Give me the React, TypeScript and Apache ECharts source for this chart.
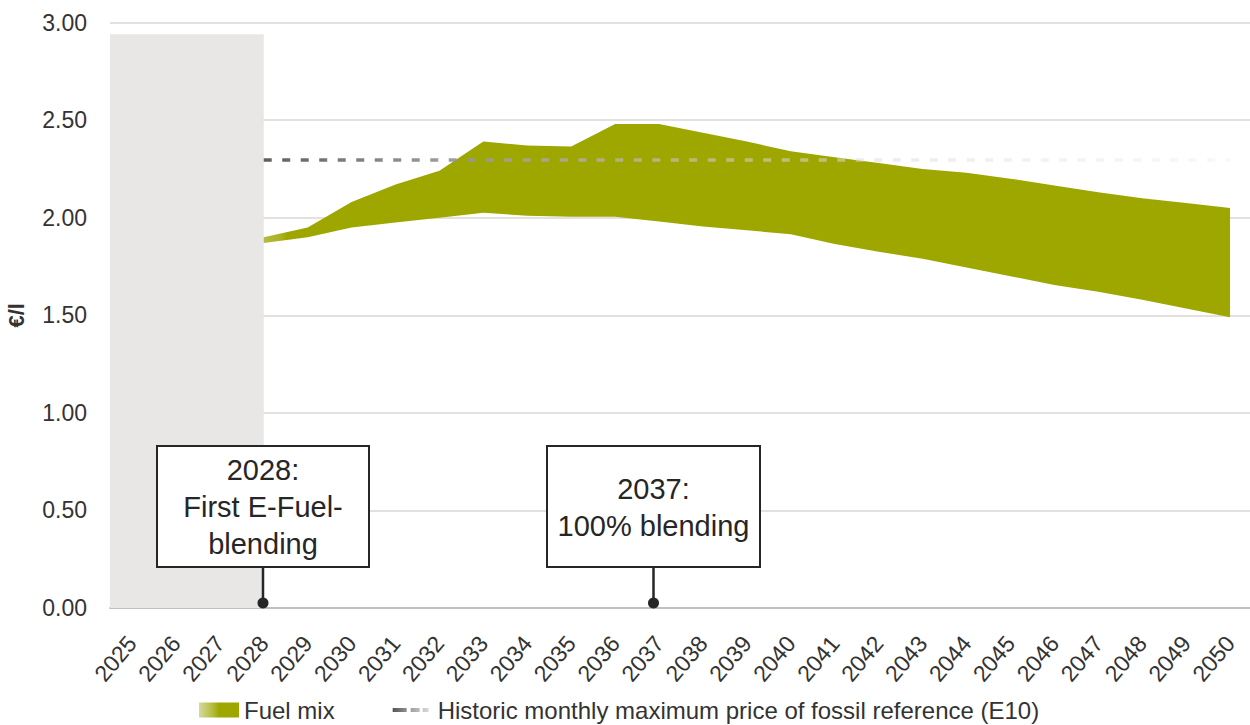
import React, { useEffect, useRef } from "react";
import * as echarts from "echarts";

const years = [
  "2025", "2026", "2027", "2028", "2029", "2030", "2031", "2032", "2033", "2034",
  "2035", "2036", "2037", "2038", "2039", "2040", "2041", "2042", "2043", "2044",
  "2045", "2046", "2047", "2048", "2049", "2050",
];

// Upper and lower bound of the fuel-mix price range (€/l)
const upperBound = [
  null, null, null, 1.9, 1.95, 2.08, 2.17, 2.24, 2.39, 2.37,
  2.365, 2.48, 2.48, 2.435, 2.39, 2.34, 2.31, 2.28, 2.25, 2.23,
  2.2, 2.165, 2.13, 2.1, 2.075, 2.05,
];
const lowerBound = [
  null, null, null, 1.87, 1.9, 1.95, 1.975, 2.0, 2.025, 2.01,
  2.005, 2.005, 1.98, 1.955, 1.935, 1.915, 1.865, 1.825, 1.79, 1.745,
  1.7, 1.655, 1.62, 1.58, 1.535, 1.49,
];

// Historic monthly maximum price of fossil reference (E10)
const fossilReference = [
  null, null, null, 2.295, 2.295, 2.295, 2.295, 2.295, 2.295, 2.295,
  2.295, 2.295, 2.295, 2.295, 2.295, 2.295, 2.295, 2.295, 2.295, 2.295,
  2.295, 2.295, 2.295, 2.295, 2.295, 2.295,
];

// Shaded historic period (index -0.5 .. 3 on a hidden value axis)
const shadedPeriod = [
  [-0.5, 2.94],
  [3, 2.94],
];

const yTicks = { min: 0, max: 3, interval: 0.5 };

const annotations = [
  { text: "2028:\nFirst E-Fuel-\nblending", x: 157, w: 212, stem: 263 },
  { text: "2037:\n100% blending", x: 547, w: 213, stem: 653.5 },
];

const FONT = "'Liberation Sans', Arial, sans-serif";
const TEXT = "#333333";
const OLIVE = "#9ea700";
const FUEL = "Fuel mix";
const FOSSIL = "Historic monthly maximum price of fossil reference (E10)";

export default function App() {
  const ref = useRef<HTMLDivElement>(null);

  useEffect(() => {
    if (!ref.current) return;
    const chart = echarts.init(ref.current, undefined, { renderer: "svg" });

    const band = upperBound.map((u, i) => {
      const l = lowerBound[i];
      return u == null || l == null ? null : +(u - l).toFixed(4);
    });

    const fossilGradient = new echarts.graphic.LinearGradient(
      264, 0, 1230, 0,
      [
        { offset: 0, color: "rgba(95,95,95,1)" },
        { offset: 0.25, color: "rgba(160,160,160,0.85)" },
        { offset: 0.55, color: "rgba(215,215,215,0.55)" },
        { offset: 1, color: "rgba(240,240,240,0.5)" },
      ],
      true
    );

    const areaGradient = new echarts.graphic.LinearGradient(0, 0, 1, 0, [
      { offset: 0, color: "#b4bb42" },
      { offset: 0.018, color: "#a9b11f" },
      { offset: 0.024, color: OLIVE },
      { offset: 1, color: OLIVE },
    ]);

    const legendFuelGradient = new echarts.graphic.LinearGradient(0, 0, 1, 0, [
      { offset: 0, color: "#d6d99c" },
      { offset: 0.35, color: "#b3ba3c" },
      { offset: 0.5, color: OLIVE },
      { offset: 1, color: OLIVE },
    ]);
    const legendLineGradient = new echarts.graphic.LinearGradient(0, 0, 1, 0, [
      { offset: 0, color: "#555555" },
      { offset: 0.45, color: "#a0a0a0" },
      { offset: 1, color: "#e6e6e6" },
    ]);

    const graphics: any[] = [];
    annotations.forEach((a) => {
      graphics.push({
        type: "line",
        z: 100,
        shape: { x1: a.stem, y1: 567, x2: a.stem, y2: 603 },
        style: { stroke: "#262626", lineWidth: 2.5 },
      });
      graphics.push({
        type: "circle",
        z: 101,
        shape: { cx: a.stem, cy: 603, r: 5.5 },
        style: { fill: "#262626" },
      });
      graphics.push({
        type: "rect",
        z: 102,
        shape: { x: a.x, y: 446, width: a.w, height: 121 },
        style: { fill: "#ffffff", stroke: "#262626", lineWidth: 2 },
      });
      graphics.push({
        type: "text",
        z: 103,
        x: a.x + a.w / 2,
        y: 507,
        style: {
          text: a.text,
          fill: "#262626",
          fontSize: 29,
          fontFamily: FONT,
          lineHeight: 37,
          align: "center",
          verticalAlign: "middle",
        },
      });
    });

    chart.setOption({
      animation: false,
      backgroundColor: "#ffffff",
      textStyle: { fontFamily: FONT },
      grid: {
        left: 110,
        right: -2,
        top: 22.5,
        bottom: 117,
        containLabel: false,
        outerBoundsMode: "none",
      },
      legend: {
        left: 199,
        top: 698,
        padding: 0,
        itemWidth: 40,
        itemHeight: 15,
        itemGap: 58,
        textStyle: { fontSize: 24, color: TEXT, fontFamily: FONT },
        data: [
          { name: FUEL, icon: "rect", itemStyle: { color: legendFuelGradient, borderWidth: 0 } },
          {
            name: FOSSIL,
            icon:
              "path://M0 5.5h14v4H0z M18 5.5h9v4h-9z M30 5.5h6v4h-6z M0 0h0.01v0.01H0z M39.99 14.99h0.01v0.01h-0.01z",
            itemStyle: { color: legendLineGradient, borderWidth: 0 },
            lineStyle: { width: 0 },
          },
        ],
      },
      xAxis: [
        {
          type: "category",
          data: years,
          boundaryGap: true,
          axisLine: { lineStyle: { color: "#c0c0c0", width: 2 } },
          axisTick: { show: false },
          axisLabel: {
            rotate: 50,
            interval: 0,
            fontSize: 23,
            color: TEXT,
            margin: 31,
            fontFamily: FONT,
          },
          splitLine: { show: false },
        },
        {
          type: "value",
          min: -0.5,
          max: 25.5,
          show: false,
        },
      ],
      yAxis: {
        type: "value",
        min: yTicks.min,
        max: yTicks.max,
        interval: yTicks.interval,
        name: "€/l",
        nameLocation: "middle",
        nameGap: 83,
        nameRotate: 90,
        nameTextStyle: { fontSize: 22, fontWeight: "bold", color: TEXT, fontFamily: FONT },
        axisLine: { show: false },
        axisTick: { show: false },
        axisLabel: {
          fontSize: 23,
          color: TEXT,
          margin: 23,
          fontFamily: FONT,
          formatter: (v: number) => v.toFixed(2),
        },
        splitLine: { lineStyle: { color: "#e3e1de", width: 2 } },
      },
      series: [
        {
          name: "Historic period",
          type: "line",
          xAxisIndex: 1,
          data: shadedPeriod,
          symbol: "none",
          silent: true,
          lineStyle: { width: 0 },
          areaStyle: { color: "#e8e7e6", opacity: 1 },
          z: 1,
        },
        {
          name: "lower",
          type: "line",
          stack: "band",
          data: lowerBound,
          symbol: "none",
          silent: true,
          lineStyle: { width: 0 },
          z: 2,
        },
        {
          name: FUEL,
          type: "line",
          stack: "band",
          data: band,
          symbol: "none",
          lineStyle: { width: 0 },
          itemStyle: { color: OLIVE },
          areaStyle: { color: areaGradient, opacity: 1 },
          z: 2,
        },
        {
          name: FOSSIL,
          type: "line",
          data: fossilReference,
          symbol: "none",
          itemStyle: { color: "#888888" },
          lineStyle: { color: fossilGradient, width: 3.5, type: [8, 10.5] },
          z: 3,
        },
      ],
      graphic: graphics,
    });

    return () => chart.dispose();
  }, []);

  return (
    <div
      ref={ref}
      style={{ position: "absolute", left: 0, top: 0, width: 1250, height: 725 }}
    />
  );
}
